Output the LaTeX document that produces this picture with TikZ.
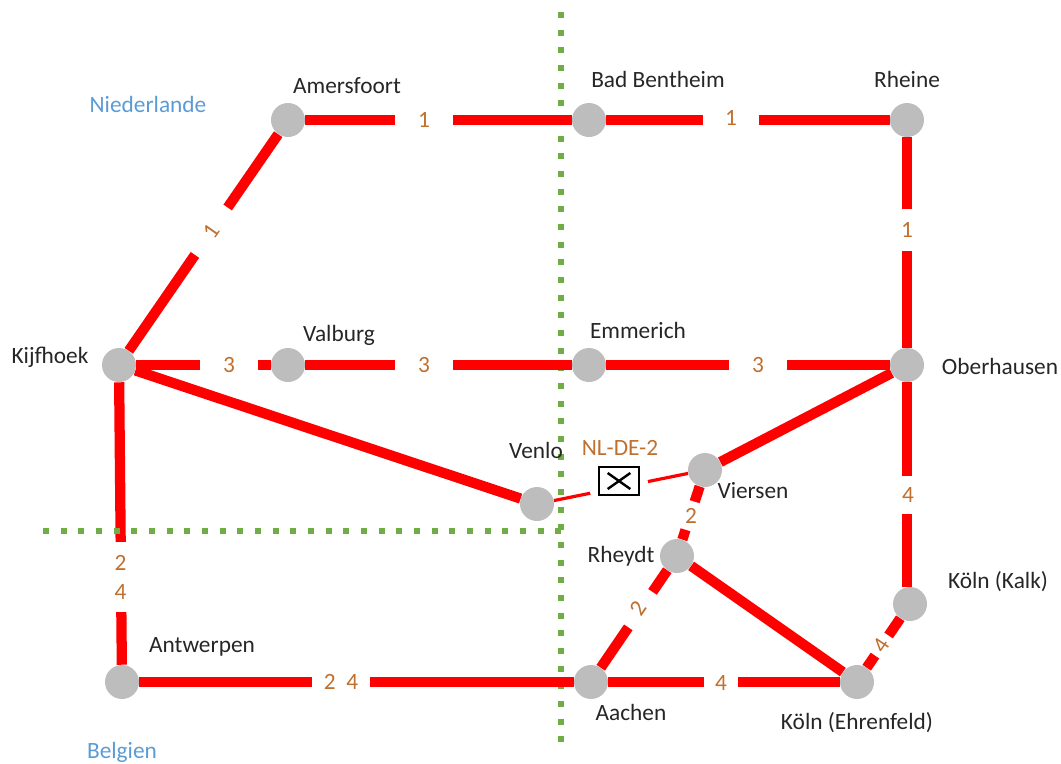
\documentclass[tikz,border=0pt]{standalone}
\usepackage{fontspec}
\usepackage{graphicx}
\setmainfont{Carlito}
\usetikzlibrary{backgrounds}
\definecolor{railred}{HTML}{FF0000}
\definecolor{stationgrey}{HTML}{BDBDBD}
\definecolor{bordergreen}{HTML}{70AD47}
\definecolor{labelbrown}{HTML}{C0702E}
\definecolor{countryblue}{HTML}{5B9BD5}
\tikzset{
  station/.style={circle,fill=stationgrey,minimum size=25.5pt,inner sep=0pt},
  rail/.style={draw=railred,line width=7.7pt},
  thinrail/.style={draw=railred,line width=2.4pt},
  borderline/.style={draw=bordergreen,line width=4.5pt,dash pattern=on 4.5pt off 8.75pt},
  placename/.style={font=\fontsize{17.5}{21}\selectfont,text=black!85,inner sep=0pt},
  countryname/.style={font=\fontsize{17.5}{21}\selectfont,text=countryblue,inner sep=0pt},
  gaplabel/.style={fill=white,font=\fontsize{17.5}{21.75}\selectfont,text=labelbrown,inner sep=0pt,minimum height=13pt,align=center},
  blocked/.style={draw=black,line width=2pt,fill=white,minimum width=30pt,minimum height=21pt,inner sep=0pt},
  crossline/.style={draw=black,line width=1.8pt},
}
\begin{document}
\begin{tikzpicture}[x=0.75pt,y=-0.75pt]
\useasboundingbox (0,0) rectangle (1061,764);
% stations
\node[station] (amersfoort) at (288,120) {};
\node[station] (bentheim) at (589,120) {};
\node[station] (rheine) at (907,120) {};
\node[station] (kijfhoek) at (119,365) {};
\node[station] (valburg) at (288,365) {};
\node[station] (emmerich) at (589,365) {};
\node[station] (oberhausen) at (907,365) {};
\node[station] (venlo) at (537,504) {};
\node[station] (viersen) at (705,470) {};
\node[station] (rheydt) at (677,556) {};
\node[station] (aachen) at (591,682) {};
\node[station] (antwerpen) at (122,682) {};
\node[station] (ehrenfeld) at (857,682) {};
\node[station] (kalk) at (910,604) {};
% borders and connectors, behind the stations
\coordinate (vtop) at (561,12);
\coordinate (vbot) at (561,750);
\coordinate (hleft) at (43,531);
\coordinate (hright) at (561,531);
\begin{pgfonlayer}{background}
\draw[borderline] (vtop) -- (vbot);
\draw[rail] (kijfhoek) -- (amersfoort);
\draw[rail] (amersfoort) -- (bentheim);
\draw[rail] (bentheim) -- (rheine);
\draw[rail] (rheine) -- (oberhausen);
\draw[rail] (kijfhoek) -- (valburg);
\draw[rail] (valburg) -- (emmerich);
\draw[rail] (emmerich) -- (oberhausen);
\draw[rail] (kijfhoek) -- (venlo);
\draw[thinrail] (venlo) -- (viersen);
\draw[rail] (viersen) -- (oberhausen);
\draw[rail] (viersen) -- (rheydt);
\draw[rail] (rheydt) -- (aachen);
\draw[rail] (rheydt) -- (ehrenfeld);
\draw[rail] (oberhausen) -- (oberhausen |- kalk.north);
\draw[rail] (kalk) -- (ehrenfeld);
\draw[rail] (kijfhoek) -- (antwerpen);
\draw[rail] (antwerpen) -- (aachen);
\draw[rail] (aachen) -- (ehrenfeld);
\end{pgfonlayer}
% line labels that interrupt the lines
\node[gaplabel,minimum width=43pt,rotate=55] (l1) at (211,231) {1};
\node[gaplabel,minimum width=43pt] (l2) at (424,120) {1};
\node[gaplabel,minimum width=42pt] (l3) at (731,118) {1};
\node[gaplabel,minimum height=32pt,minimum width=14pt] (l4) at (907,230) {1};
\node[gaplabel,minimum width=44pt] (l5) at (229,365) {3};
\node[gaplabel,minimum width=43pt] (l6) at (424,365) {3};
\node[gaplabel,minimum width=43pt] (l7) at (758,365) {3};
\node[gaplabel,minimum height=29pt,minimum width=14pt] (l8) at (908,495) {4};
\node[gaplabel,minimum height=53pt,minimum width=16pt] (l9) at (120.5,577) {2\\4};
\node[gaplabel,minimum width=44pt] (l10) at (341,682) {2\hspace{8pt}4};
\node[gaplabel,minimum width=25pt] (l11) at (721,683) {4};
\node[gaplabel,minimum width=32pt,minimum height=24pt,rotate=56] (l12) at (638,608) {2};
\node[gaplabel,minimum width=22pt,rotate=73] (l13) at (691,516) {\rotatebox{-73}{2}};
\node[gaplabel,minimum width=18pt,minimum height=11pt,rotate=56] (l14) at (881,645) {4};
% horizontal border runs over the rail
\begin{scope}
\draw[borderline] (hleft) -- (hright);
\end{scope}
% blocked section
\node[fill=white,minimum width=44pt,minimum height=13pt,inner sep=0pt,rotate=11] (gapbox) at (619,487) {};
\node[blocked] (cross) at (619,481) {};
\draw[crossline] ([shift={(-8.5pt,-6pt)}]cross.center) -- ([shift={(8.5pt,6pt)}]cross.center);
\draw[crossline] ([shift={(-8.5pt,6pt)}]cross.center) -- ([shift={(8.5pt,-6pt)}]cross.center);
% names
\node[placename] (tamersfoort) at (347,86) {Amersfoort};
\node[placename] (tbentheim) at (658,79) {Bad Bentheim};
\node[placename] (trheine) at (907,79) {Rheine};
\node[placename] (tkijfhoek) at (50,357) {Kijfhoek};
\node[placename] (tvalburg) at (339,335) {Valburg};
\node[placename] (temmerich) at (638,330) {Emmerich};
\node[placename] (toberhausen) at (1000,366) {Oberhausen};
\node[placename] (tvenlo) at (536,450) {Venlo};
\node[placename,text=labelbrown] (tnlde) at (620,448) {NL-DE-2};
\node[placename] (tviersen) at (753,491) {Viersen};
\node[placename] (trheydt) at (621,556) {Rheydt};
\node[placename] (tkalk) at (998,582) {Köln (Kalk)};
\node[placename] (tehrenfeld) at (857,723) {Köln (Ehrenfeld)};
\node[placename] (tantwerpen) at (202,647) {Antwerpen};
\node[placename] (taachen) at (631,712) {Aachen};
\node[countryname] (tnl) at (148,104) {Niederlande};
\node[countryname] (tbe) at (122,752) {Belgien};
\end{tikzpicture}
\end{document}
